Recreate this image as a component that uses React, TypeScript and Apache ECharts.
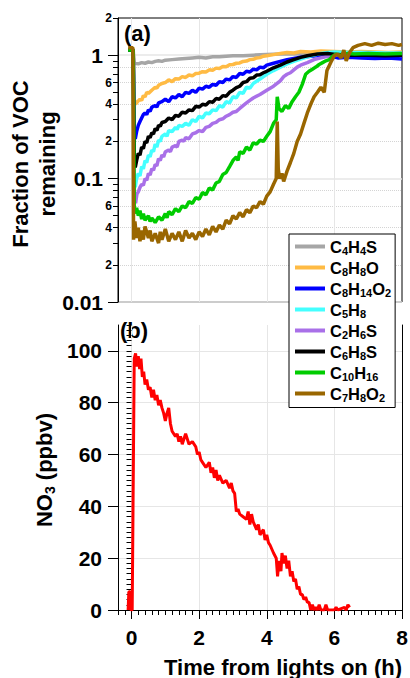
import React, { useEffect, useRef } from "react";
import * as echarts from "echarts";

type P = [number, number];

const seriesNames = ["C4H4S", "C8H8O", "C8H14O2", "C5H8", "C2H6S", "C6H8S", "C10H16", "C7H8O2"];
const seriesColors = ["#a6a6a6", "#ffbb44", "#0000ff", "#44ffff", "#a970e8", "#000000", "#00cc00", "#996600"];

const c4h4s: P[] = [[-0.1,1.1],[0.05,1.1],[0.08,0.86],[0.2,0.85],[0.3,0.87],[0.4,0.86],[0.5,0.88],[0.6,0.87],[0.7,0.89],[0.8,0.9],[0.9,0.89],[1.0,0.91],[1.2,0.92],[1.4,0.93],[1.6,0.94],[1.8,0.95],[2.0,0.96],[2.2,0.95],[2.4,0.97],[2.6,0.97],[2.8,0.98],[3.0,0.99],[3.3,0.99],[3.6,1.0],[4.0,1.01],[4.4,1.02],[4.8,1.02],[5.2,1.03],[5.6,1.03],[6.0,1.04],[6.4,1.04],[6.8,1.04],[7.2,1.03],[7.6,1.04],[8.0,1.04]];
const c8h8o: P[] = [[-0.1,1.1],[0.05,1.1],[0.08,0.44],[0.12,0.4],[0.18,0.42],[0.25,0.44],[0.3,0.43],[0.35,0.47],[0.4,0.46],[0.45,0.5],[0.5,0.49],[0.6,0.52],[0.7,0.55],[0.75,0.54],[0.8,0.57],[0.9,0.59],[1.0,0.6],[1.1,0.63],[1.2,0.61],[1.3,0.645],[1.4,0.64],[1.5,0.67],[1.6,0.66],[1.7,0.69],[1.8,0.68],[1.9,0.71],[2.0,0.715],[2.1,0.735],[2.2,0.73],[2.3,0.76],[2.4,0.755],[2.5,0.785],[2.6,0.78],[2.7,0.81],[2.8,0.805],[2.9,0.835],[3.0,0.84],[3.1,0.86],[3.2,0.865],[3.3,0.89],[3.4,0.895],[3.5,0.92],[3.6,0.925],[3.7,0.95],[3.8,0.955],[3.9,0.98],[4.0,0.99],[4.2,1.01],[4.4,1.03],[4.6,1.05],[4.8,1.04],[5.0,1.07],[5.3,1.06],[5.6,1.08],[6.0,1.07],[6.4,1.06],[6.8,1.07],[7.2,1.06],[7.6,1.05],[8.0,1.06]];
const c8h14o2: P[] = [[-0.1,1.1],[0.05,1.1],[0.08,0.24],[0.11,0.21],[0.15,0.24],[0.2,0.27],[0.25,0.29],[0.3,0.31],[0.35,0.33],[0.4,0.34],[0.45,0.33],[0.5,0.36],[0.55,0.35],[0.6,0.38],[0.7,0.39],[0.75,0.38],[0.8,0.41],[0.9,0.42],[1.0,0.44],[1.1,0.42],[1.2,0.46],[1.3,0.45],[1.4,0.48],[1.5,0.46],[1.6,0.5],[1.7,0.49],[1.8,0.52],[1.9,0.5],[2.0,0.54],[2.1,0.53],[2.2,0.56],[2.3,0.55],[2.4,0.58],[2.5,0.57],[2.6,0.61],[2.7,0.6],[2.8,0.64],[2.9,0.63],[3.0,0.67],[3.1,0.66],[3.2,0.71],[3.3,0.7],[3.4,0.74],[3.5,0.73],[3.6,0.77],[3.7,0.76],[3.8,0.8],[3.9,0.79],[4.0,0.83],[4.2,0.86],[4.4,0.89],[4.6,0.92],[4.8,0.94],[5.0,0.96],[5.3,0.98],[5.6,1.0],[5.9,0.98],[6.1,0.95],[6.4,0.96],[6.8,0.95],[7.2,0.94],[7.6,0.95],[8.0,0.93]];
const c5h8: P[] = [[-0.1,1.1],[0.05,1.1],[0.08,0.1],[0.11,0.085],[0.15,0.1],[0.2,0.11],[0.25,0.105],[0.3,0.125],[0.35,0.12],[0.4,0.14],[0.45,0.135],[0.5,0.155],[0.55,0.15],[0.6,0.17],[0.65,0.165],[0.7,0.19],[0.75,0.18],[0.8,0.205],[0.85,0.2],[0.9,0.22],[1.0,0.23],[1.05,0.22],[1.1,0.245],[1.2,0.24],[1.3,0.26],[1.35,0.25],[1.4,0.27],[1.5,0.265],[1.6,0.28],[1.7,0.27],[1.8,0.3],[1.9,0.29],[2.0,0.32],[2.1,0.31],[2.2,0.34],[2.3,0.335],[2.4,0.36],[2.5,0.355],[2.6,0.39],[2.7,0.38],[2.8,0.42],[2.9,0.41],[3.0,0.46],[3.1,0.45],[3.2,0.5],[3.3,0.49],[3.4,0.55],[3.5,0.54],[3.6,0.59],[3.8,0.64],[4.0,0.7],[4.2,0.75],[4.4,0.8],[4.6,0.85],[4.8,0.89],[5.0,0.93],[5.2,0.97],[5.4,1.0],[5.6,1.03],[5.8,1.05],[6.0,1.06],[6.5,1.05],[7.0,1.05],[7.5,1.04],[8.0,1.04]];
const c2h6s: P[] = [[-0.1,1.1],[0.05,1.1],[0.08,0.075],[0.12,0.063],[0.16,0.075],[0.2,0.078],[0.25,0.085],[0.3,0.09],[0.35,0.088],[0.4,0.1],[0.45,0.097],[0.5,0.11],[0.55,0.107],[0.6,0.12],[0.65,0.117],[0.7,0.13],[0.75,0.127],[0.8,0.145],[0.85,0.14],[0.9,0.155],[0.95,0.15],[1.0,0.165],[1.1,0.17],[1.15,0.165],[1.2,0.18],[1.3,0.185],[1.35,0.18],[1.4,0.2],[1.5,0.205],[1.55,0.2],[1.6,0.215],[1.7,0.21],[1.8,0.23],[1.9,0.235],[2.0,0.245],[2.1,0.24],[2.2,0.26],[2.3,0.265],[2.4,0.28],[2.5,0.285],[2.6,0.3],[2.7,0.305],[2.8,0.32],[2.9,0.33],[3.0,0.345],[3.1,0.35],[3.2,0.37],[3.3,0.39],[3.4,0.41],[3.5,0.43],[3.6,0.45],[3.8,0.48],[4.0,0.52],[4.2,0.56],[4.4,0.62],[4.5,0.67],[4.6,0.7],[4.7,0.72],[4.8,0.76],[4.9,0.8],[5.0,0.83],[5.2,0.87],[5.4,0.92],[5.6,0.95],[5.8,0.98],[6.0,1.0],[6.5,1.02],[7.0,1.03],[7.5,1.02],[8.0,1.03]];
const c6h8s: P[] = [[-0.1,1.1],[0.05,1.1],[0.08,0.14],[0.11,0.123],[0.15,0.14],[0.2,0.16],[0.25,0.155],[0.3,0.18],[0.35,0.175],[0.4,0.2],[0.45,0.195],[0.5,0.22],[0.55,0.215],[0.6,0.235],[0.65,0.23],[0.7,0.255],[0.75,0.245],[0.8,0.27],[0.85,0.265],[0.9,0.285],[1.0,0.29],[1.1,0.31],[1.2,0.3],[1.3,0.325],[1.4,0.32],[1.5,0.345],[1.6,0.34],[1.7,0.36],[1.8,0.355],[1.9,0.385],[2.0,0.38],[2.1,0.4],[2.2,0.395],[2.3,0.42],[2.4,0.415],[2.5,0.445],[2.6,0.44],[2.7,0.47],[2.8,0.465],[2.9,0.5],[3.0,0.52],[3.1,0.545],[3.2,0.56],[3.3,0.6],[3.4,0.61],[3.5,0.65],[3.6,0.655],[3.7,0.69],[3.8,0.695],[3.9,0.72],[4.0,0.74],[4.2,0.79],[4.4,0.83],[4.6,0.88],[4.8,0.92],[5.0,0.96],[5.2,0.99],[5.5,1.02],[5.8,1.03],[6.1,1.01],[6.5,1.0],[7.0,1.0],[7.5,0.99],[8.0,1.0]];
const c10h16: P[] = [[-0.1,1.1],[0.05,1.1],[0.08,0.06],[0.1,0.052],[0.15,0.058],[0.2,0.05],[0.25,0.055],[0.3,0.047],[0.35,0.052],[0.4,0.046],[0.5,0.05],[0.55,0.045],[0.6,0.048],[0.7,0.044],[0.8,0.049],[0.9,0.046],[1.0,0.052],[1.05,0.048],[1.1,0.054],[1.2,0.051],[1.3,0.057],[1.4,0.054],[1.5,0.06],[1.6,0.058],[1.7,0.065],[1.8,0.063],[1.9,0.07],[2.0,0.068],[2.1,0.077],[2.2,0.074],[2.3,0.084],[2.4,0.081],[2.5,0.092],[2.6,0.095],[2.7,0.108],[2.8,0.112],[2.9,0.125],[3.0,0.14],[3.1,0.15],[3.15,0.14],[3.2,0.165],[3.3,0.16],[3.4,0.18],[3.5,0.17],[3.6,0.195],[3.7,0.19],[3.8,0.205],[3.9,0.2],[4.0,0.22],[4.1,0.24],[4.2,0.28],[4.28,0.3],[4.31,0.46],[4.36,0.37],[4.45,0.35],[4.55,0.39],[4.65,0.37],[4.75,0.42],[4.85,0.46],[4.95,0.5],[5.05,0.58],[5.15,0.7],[5.25,0.74],[5.35,0.77],[5.45,0.8],[5.55,0.84],[5.65,0.87],[5.75,0.9],[5.85,0.92],[5.95,0.98],[6.05,1.02],[6.2,1.0],[6.4,1.03],[6.6,1.02],[7.0,1.03],[7.5,1.02],[8.0,1.03]];
const c7h8o2: P[] = [[-0.1,1.15],[0.04,1.15],[0.06,0.032],[0.1,0.045],[0.15,0.033],[0.2,0.04],[0.25,0.031],[0.3,0.038],[0.35,0.032],[0.4,0.041],[0.5,0.033],[0.55,0.038],[0.6,0.031],[0.7,0.036],[0.8,0.03],[0.85,0.037],[0.9,0.032],[1.0,0.039],[1.1,0.031],[1.2,0.036],[1.3,0.032],[1.4,0.037],[1.5,0.031],[1.6,0.038],[1.7,0.033],[1.8,0.036],[1.9,0.032],[2.0,0.037],[2.1,0.034],[2.2,0.039],[2.3,0.035],[2.4,0.041],[2.5,0.037],[2.6,0.042],[2.7,0.039],[2.8,0.046],[2.9,0.043],[3.0,0.05],[3.1,0.047],[3.2,0.053],[3.3,0.049],[3.4,0.056],[3.5,0.053],[3.6,0.06],[3.7,0.058],[3.8,0.065],[3.9,0.062],[4.0,0.072],[4.1,0.078],[4.2,0.09],[4.28,0.1],[4.31,0.29],[4.34,0.12],[4.38,0.1],[4.45,0.11],[4.5,0.095],[4.6,0.115],[4.7,0.135],[4.8,0.16],[4.9,0.2],[5.0,0.23],[5.1,0.28],[5.2,0.34],[5.3,0.4],[5.4,0.46],[5.5,0.5],[5.6,0.55],[5.7,0.5],[5.78,0.75],[5.9,0.88],[6.0,0.99],[6.1,1.02],[6.2,0.95],[6.28,1.1],[6.35,0.9],[6.45,1.05],[6.55,1.15],[6.7,1.2],[6.9,1.24],[7.1,1.2],[7.3,1.25],[7.5,1.22],[7.7,1.24],[7.9,1.2],[8.0,1.22]];
const vocSeries: P[][] = [c4h4s, c8h8o, c8h14o2, c5h8, c2h6s, c6h8s, c10h16, c7h8o2];

const no3: P[] = [[-0.1,0],[-0.08,7],[-0.04,7],[-0.02,0],[0.02,0],[0.08,97],[0.12,99],[0.16,94],[0.2,98],[0.24,93],[0.28,97],[0.32,90],[0.36,92],[0.4,87],[0.45,89],[0.5,85],[0.55,86],[0.6,82],[0.65,85],[0.7,81],[0.75,83],[0.8,79],[0.85,81],[0.9,78],[0.95,76],[1.0,73],[1.05,76],[1.1,78],[1.15,72],[1.2,69],[1.3,67],[1.35,68],[1.4,65],[1.45,67],[1.5,64],[1.55,66],[1.6,68],[1.7,64],[1.8,65],[1.9,63],[1.95,60],[2.0,61],[2.05,58],[2.1,57],[2.2,55],[2.3,57],[2.35,53],[2.4,55],[2.45,51],[2.5,54],[2.55,50],[2.6,52],[2.7,49],[2.8,50],[2.9,47],[2.95,49],[3.0,46],[3.05,45],[3.1,38],[3.15,39],[3.2,37],[3.3,36],[3.4,35],[3.45,38],[3.5,33],[3.55,37],[3.6,34],[3.7,31],[3.75,33],[3.8,29],[3.9,31],[3.95,27],[4.0,29],[4.05,26],[4.1,25],[4.2,22],[4.28,20],[4.32,13],[4.36,19],[4.42,15],[4.45,22],[4.5,18],[4.55,21],[4.6,16],[4.65,19],[4.7,13],[4.75,15],[4.8,11],[4.85,12],[4.9,8],[4.95,9],[5.0,6],[5.05,6],[5.1,4],[5.15,5],[5.2,3],[5.25,3],[5.3,0],[5.35,2],[5.4,0],[5.45,1],[5.5,0],[5.55,2],[5.6,0],[5.7,0],[5.75,2],[5.8,0],[5.9,0],[6.0,0],[6.05,1],[6.1,0],[6.2,0.5],[6.3,1],[6.35,0],[6.4,2],[6.45,1]];

const xMajorTicks = [0, 2, 4, 6, 8];
const vocMajorTicks = [0.01, 0.1, 1];
const vocMinorTicks = [0.02,0.03,0.04,0.05,0.06,0.07,0.08,0.09,0.2,0.3,0.4,0.5,0.6,0.7,0.8,0.9,2];
const vocMinorLabels = [0.02, 0.04, 0.06, 0.2, 0.4, 0.6, 2];
const vocDottedLines = [0.02, 0.04, 0.06, 0.08, 0.2, 0.4, 0.6, 0.8];
const no3Ticks = [0, 20, 40, 60, 80, 100];

const FONT = "'Liberation Sans', Arial, sans-serif";

const sub = (name: string) =>
  name.split(/(\d+)/).filter(Boolean).map((p) => (/^\d+$/.test(p) ? `{s|${p}}` : `{n|${p}}`)).join("");

export default function App() {
  const ref = useRef<HTMLDivElement>(null);
  useEffect(() => {
    if (!ref.current) return;
    const chart = echarts.init(ref.current, null, { renderer: "svg" });
    const X_MIN = -0.4, X_MAX = 8;
    const L_MIN = Math.log10(0.01), L_MAX = Math.log10(2);
    const xMinor = Array.from({ length: 43 }, (_, i) => Math.round((X_MIN + i * 0.2) * 10) / 10);
    const yMinorNo3 = Array.from({ length: 56 }, (_, i) => i * 2);
    const lg = (a: number[]) => a.map((v) => Math.log10(v));
    const grid = "#e6e6e6";
    const black = "#000";
    const bigLabel = { color: black, fontSize: 21, fontWeight: "bold" as const, fontFamily: FONT };

    const option: any = {
      animation: false,
      textStyle: { fontFamily: FONT },
      grid: [
        { left: 118, right: 8, top: 18, height: 284, show: true, borderColor: black, borderWidth: 1, backgroundColor: "transparent", outerBoundsMode: "none" },
        { left: 118, right: 8, top: 325, height: 285, outerBoundsMode: "none" },
      ],
      xAxis: [
        { gridIndex: 0, type: "value", min: X_MIN, max: X_MAX, axisLine: { show: false }, axisTick: { show: false, customValues: [0, 2, 4, 6] }, axisLabel: { show: false }, splitLine: { show: true, lineStyle: { color: grid, width: 1 } } },
        { gridIndex: 1, type: "value", position: "bottom", min: X_MIN, max: X_MAX, axisLine: { show: true, onZero: false, lineStyle: { color: black, width: 1 } }, axisTick: { show: true, length: 9, customValues: xMajorTicks, lineStyle: { color: black } }, axisLabel: { ...bigLabel, margin: 17, customValues: xMajorTicks }, splitLine: { show: true, lineStyle: { color: grid, width: 1 } } },
        { gridIndex: 1, type: "value", position: "bottom", min: X_MIN, max: X_MAX, axisLine: { show: false, onZero: false }, axisTick: { show: true, length: 5, customValues: xMinor, lineStyle: { color: black } }, axisLabel: { show: false }, splitLine: { show: false } },
      ],
      yAxis: [
        { gridIndex: 0, type: "log", logBase: 10, min: 0.01, max: 2, show: false },
        { gridIndex: 0, type: "value", position: "left", min: L_MIN, max: L_MAX, axisLine: { show: true, onZero: false, lineStyle: { color: black } }, axisTick: { show: true, length: 10, customValues: lg(vocMajorTicks), lineStyle: { color: black } }, axisLabel: { ...bigLabel, margin: 15, customValues: lg(vocMajorTicks), formatter: (v: number) => { const r = Math.round(v); return r === 0 ? "1" : r === -1 ? "0.1" : "0.01"; } }, splitLine: { show: true, lineStyle: { color: grid, width: 1.5 } } },
        { gridIndex: 0, type: "value", position: "left", min: L_MIN, max: L_MAX, axisLine: { show: false }, axisTick: { show: true, length: 5, customValues: lg(vocMinorTicks), lineStyle: { color: black } }, axisLabel: { show: false }, splitLine: { show: false } },
        { gridIndex: 0, type: "value", position: "left", min: L_MIN, max: L_MAX, axisLine: { show: false }, axisTick: { show: false, customValues: lg(vocDottedLines) }, axisLabel: { color: black, fontSize: 12, fontWeight: "bold", fontFamily: FONT, margin: 6, customValues: lg(vocMinorLabels), formatter: (v: number) => String(Math.round(Math.pow(10, v - Math.floor(v + 1e-9)))) }, splitLine: { show: true, lineStyle: { color: "#d4d4d4", type: "dotted", width: 1 } } },
        { gridIndex: 1, type: "value", position: "left", min: 0, max: 110, axisLine: { show: true, onZero: false, lineStyle: { color: black } }, axisTick: { show: true, length: 10, customValues: no3Ticks, lineStyle: { color: black } }, axisLabel: { ...bigLabel, margin: 16, customValues: no3Ticks }, splitLine: { show: true, lineStyle: { color: grid, width: 1 } } },
        { gridIndex: 1, type: "value", position: "left", min: 0, max: 110, axisLine: { show: false }, axisTick: { show: true, length: 5, customValues: yMinorNo3, lineStyle: { color: black } }, axisLabel: { show: false }, splitLine: { show: false } },
        { gridIndex: 1, type: "value", position: "right", min: 0, max: 110, axisLine: { show: true, onZero: false, lineStyle: { color: black } }, axisTick: { show: false }, axisLabel: { show: false }, splitLine: { show: false } },
      ],
      legend: {
        left: 289, top: 234, orient: "vertical", padding: [4, 4, 4, 6], itemGap: 2.5, itemWidth: 30, itemHeight: 4, icon: "rect",
        backgroundColor: "#fff", borderColor: black, borderWidth: 1, borderRadius: 0,
        data: seriesNames,
        formatter: (name: string) => sub(name),
        textStyle: {
          color: black, fontSize: 16, fontWeight: "bold", fontFamily: FONT,
          rich: {
            n: { color: black, fontSize: 16.5, fontWeight: "bold", fontFamily: FONT, lineHeight: 20 },
            s: { color: black, fontSize: 11, fontWeight: "bold", fontFamily: FONT, lineHeight: 11, verticalAlign: "bottom" },
          },
        },
      },
      series: [
        ...seriesNames.map((name, i) => ({
          name, type: "line", xAxisIndex: 0, yAxisIndex: 0, data: vocSeries[i], showSymbol: false, symbol: "none",
          lineStyle: { color: seriesColors[i], width: 3.5 }, itemStyle: { color: seriesColors[i] }, z: 2 + i * 0.01,
        })),
        { name: "NO3", type: "line", xAxisIndex: 1, yAxisIndex: 4, data: no3, showSymbol: false, symbol: "none", lineStyle: { color: "#ff0000", width: 3 }, itemStyle: { color: "#ff0000" } },
      ],
      graphic: [
        { type: "text", x: 124, y: 33, style: { text: "(a)", fill: black, font: `bold 22px ${FONT}`, textAlign: "left", textVerticalAlign: "middle" } },
        { type: "text", x: 120, y: 330, style: { text: "(b)", fill: black, font: `bold 22px ${FONT}`, textAlign: "left", textVerticalAlign: "middle" } },
        { type: "text", x: 34, y: 164, rotation: Math.PI / 2, style: { text: "Fraction of VOC\nremaining", fill: black, font: `bold 22px ${FONT}`, lineHeight: 27, textAlign: "center", textVerticalAlign: "middle" } },
        { type: "text", x: 44, y: 470, rotation: Math.PI / 2, style: { text: "{n|NO}{s|3}{n| (ppbv)}", fill: black, textAlign: "center", textVerticalAlign: "middle",
          rich: { n: { fill: black, fontSize: 22, fontWeight: "bold", fontFamily: FONT, lineHeight: 26 }, s: { fill: black, fontSize: 14, fontWeight: "bold", fontFamily: FONT, lineHeight: 14, verticalAlign: "bottom" } } } },
        { type: "text", x: 402, y: 667, style: { text: "Time from lights on (h)", fill: black, font: `bold 22px ${FONT}`, textAlign: "right", textVerticalAlign: "middle" } },
      ],
    };
    chart.setOption(option);
    return () => chart.dispose();
  }, []);
  return <div ref={ref} style={{ position: "fixed", left: 0, top: 0, width: 410, height: 678, background: "#fff" }} />;
}
